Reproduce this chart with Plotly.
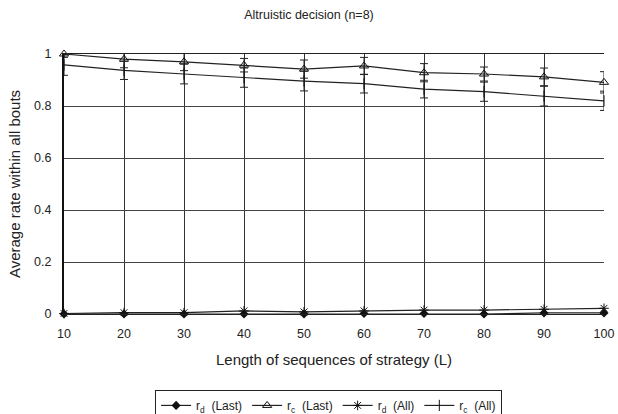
import plotly.graph_objects as go

L = [10, 20, 30, 40, 50, 60, 70, 80, 90, 100]
rd_last = [0.0, 0.0, 0.0, 0.0, 0.0, 0.002, 0.002, 0.0, 0.004, 0.004]
rc_last = [1.0, 0.98, 0.97, 0.957, 0.942, 0.954, 0.928, 0.923, 0.912, 0.891]
rc_last_err = [0.013, 0.033, 0.034, 0.026, 0.035, 0.033, 0.035, 0.027, 0.034, 0.041]
rd_all = [0.002, 0.005, 0.005, 0.012, 0.008, 0.012, 0.015, 0.015, 0.018, 0.022]
rc_all = [0.958, 0.937, 0.923, 0.909, 0.896, 0.886, 0.865, 0.855, 0.838, 0.82]
rc_all_err = [0.04, 0.035, 0.038, 0.037, 0.038, 0.036, 0.034, 0.037, 0.038, 0.037]

fig = go.Figure()
line = dict(color="#222", width=1.2)
fig.add_trace(go.Scatter(x=L, y=rd_last, mode="lines+markers", name="r<sub>d</sub>  (Last)",
                         line=line, marker=dict(symbol="diamond", size=7, color="#111"),
                         cliponaxis=False))
fig.add_trace(go.Scatter(x=L, y=rc_last, mode="lines+markers", name="r<sub>c</sub>  (Last)",
                         line=line, marker=dict(symbol="triangle-up-open", size=8, color="#111",
                                                line=dict(width=1)),
                         error_y=dict(type="data", array=rc_last_err, color="#222", thickness=1, width=4),
                         cliponaxis=False))
fig.add_trace(go.Scatter(x=L, y=rd_all, mode="lines+markers", name="r<sub>d</sub>  (All)",
                         line=line, marker=dict(symbol="asterisk-open", size=8, color="#111",
                                                line=dict(width=1, color="#111")),
                         cliponaxis=False))
fig.add_trace(go.Scatter(x=L, y=rc_all, mode="lines+markers", name="r<sub>c</sub>  (All)",
                         line=line, marker=dict(symbol="line-ns-open", size=8, color="#111",
                                                line=dict(width=1, color="#111")),
                         error_y=dict(type="data", array=rc_all_err, color="#222", thickness=1, width=4),
                         cliponaxis=False))

fig.update_layout(
    width=618, height=414,
    margin=dict(l=64, r=14, t=54, b=100, autoexpand=False),
    paper_bgcolor="white", plot_bgcolor="white",
    font=dict(family="Liberation Sans, Arial, sans-serif", size=12.5, color="#222"),
    title=dict(text="Altruistic decision (n=8)", x=0.5, xanchor="center", y=0.964, yanchor="middle",
               font=dict(size=12.5)),
    xaxis=dict(range=[10, 100], tickvals=L, ticktext=[str(v) for v in L],
               showgrid=True, gridcolor="#333", gridwidth=1, zeroline=False,
               showline=True, linecolor="#222", linewidth=1, mirror=True,
               ticks="", ticklabelstandoff=8, ticklabeloverflow="allow", automargin=False,
               title=dict(text="Length of sequences of strategy (L)", standoff=14)),
    yaxis=dict(range=[0, 1], tickvals=[0, 0.2, 0.4, 0.6, 0.8, 1], ticktext=["0", "0.2", "0.4", "0.6", "0.8", "1"],
               showgrid=True, gridcolor="#444", gridwidth=1, zeroline=False,
               showline=True, linecolor="#111", linewidth=2, mirror=False,
               ticks="", ticklabelstandoff=8, automargin=False,
               title=dict(text="Average rate within all bouts", standoff=10)),
    legend=dict(orientation="h", x=0.49, xanchor="center", y=-0.292, yanchor="top",
                bordercolor="#222", borderwidth=1, bgcolor="white",
                font=dict(size=12), itemwidth=30, tracegroupgap=0),
    showlegend=True,
)
fig.write_html("out.html", config={"displayModeBar": False},
               post_script="document.body.style.margin='0px';")
